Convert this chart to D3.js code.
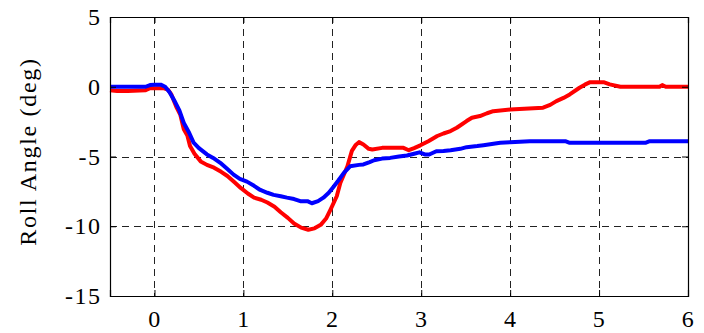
<!DOCTYPE html>
<html><head><meta charset="utf-8">
<script src="https://cdn.jsdelivr.net/npm/d3@7"></script>
<style>
html,body{margin:0;padding:0;background:#fff;}
svg{display:block;}
</style></head>
<body>
<svg id="chart" width="704" height="333"></svg>
<script>
// Data
const xTicks = [0, 1, 2, 3, 4, 5, 6];
const yTicks = [5, 0, -5, -10, -15];
const yLabel = "Roll Angle (deg)";

const blueT = [-0.5,-0.1,-0.05,0.0,0.07,0.12,0.17,0.22,0.28,0.33,0.39,0.44,0.5,0.59,0.66,0.74,0.82,0.89,0.96,1.04,1.12,1.19,1.27,1.34,1.42,1.49,1.57,1.64,1.72,1.77,1.84,1.9,1.96,2.01,2.07,2.13,2.2,2.3,2.35,2.42,2.47,2.56,2.65,2.75,2.84,2.92,2.98,3.04,3.09,3.17,3.25,3.33,3.44,3.51,3.63,3.7,3.85,3.89,4.0,4.22,4.62,4.67,5.52,5.57,6.0];
const blueV = [0,0,0.12,0.15,0.15,0.0,-0.4,-0.95,-1.7,-2.6,-3.3,-4.0,-4.4,-4.85,-5.1,-5.45,-5.9,-6.3,-6.6,-6.8,-7.1,-7.4,-7.6,-7.75,-7.85,-7.95,-8.05,-8.2,-8.2,-8.35,-8.2,-7.95,-7.6,-7.2,-6.7,-6.17,-5.7,-5.6,-5.57,-5.4,-5.27,-5.15,-5.1,-5.0,-4.93,-4.8,-4.7,-4.85,-4.86,-4.62,-4.6,-4.55,-4.45,-4.33,-4.25,-4.19,-4.05,-4.02,-3.97,-3.9,-3.9,-4.02,-4.02,-3.9,-3.9];

const redT = [-0.5,-0.42,-0.3,-0.1,-0.05,0.1,0.15,0.19,0.25,0.29,0.33,0.37,0.4,0.45,0.52,0.59,0.67,0.75,0.82,0.9,0.97,1.05,1.12,1.2,1.27,1.35,1.42,1.5,1.57,1.65,1.73,1.8,1.87,1.93,1.98,2.05,2.09,2.17,2.22,2.26,2.3,2.35,2.41,2.45,2.56,2.8,2.86,2.92,2.99,3.08,3.18,3.25,3.33,3.4,3.51,3.57,3.66,3.74,3.81,4.0,4.37,4.45,4.52,4.6,4.67,4.78,4.84,4.9,5.05,5.12,5.24,5.68,5.71,5.75,6.0];
const redV = [-0.25,-0.3,-0.3,-0.25,-0.1,-0.1,-0.2,-0.55,-1.5,-2.0,-3.05,-3.5,-4.25,-4.8,-5.35,-5.6,-5.8,-6.1,-6.4,-6.85,-7.25,-7.65,-7.95,-8.1,-8.3,-8.6,-9.0,-9.4,-9.8,-10.1,-10.25,-10.15,-9.9,-9.45,-8.8,-7.85,-6.9,-5.7,-4.6,-4.2,-3.97,-4.14,-4.45,-4.5,-4.38,-4.38,-4.55,-4.4,-4.2,-3.9,-3.53,-3.35,-3.18,-2.94,-2.46,-2.22,-2.1,-1.9,-1.75,-1.63,-1.5,-1.3,-1.03,-0.8,-0.55,-0.07,0.15,0.33,0.33,0.17,0.0,0.0,0.12,0.0,0.0];

const FONT = '"Liberation Serif"';
const margin = {left: 110, right: 16, top: 17, bottom: 37};
const W = 704, H = 333;
const svg = d3.select("#chart");
const x = d3.scaleLinear().domain([-0.5, 6]).range([margin.left, W - margin.right]);
const y = d3.scaleLinear().domain([-15, 5]).range([H - margin.bottom, margin.top]);
const x0 = x.range()[0], x1 = x.range()[1], y0 = y.range()[0], y1 = y.range()[1];

// grid
const grid = svg.append("g");
grid.selectAll(".vg").data(xTicks.filter(d => d > -0.5 && d < 6)).join("line")
  .attr("x1", d => Math.round(x(d)) + 0.5).attr("x2", d => Math.round(x(d)) + 0.5)
  .attr("y1", y1).attr("y2", y0)
  .attr("stroke", "#222").attr("stroke-width", 1).attr("stroke-dasharray", "7,5");
grid.selectAll(".hg").data(yTicks.filter(d => d > -15 && d < 5)).join("line")
  .attr("y1", d => Math.round(y(d)) + 0.5).attr("y2", d => Math.round(y(d)) + 0.5)
  .attr("x1", x0).attr("x2", x1)
  .attr("stroke", "#222").attr("stroke-width", 1).attr("stroke-dasharray", "7,5");

// lines
const line = d3.line().x(d => x(d[0])).y(d => y(d[1]));
svg.append("path").datum(redT.map((t, i) => [t, redV[i]]))
  .attr("d", line).attr("fill", "none").attr("stroke", "#ff0000")
  .attr("stroke-width", 4).attr("stroke-linejoin", "round");
svg.append("path").datum(blueT.map((t, i) => [t, blueV[i]]))
  .attr("d", line).attr("fill", "none").attr("stroke", "#0000ff")
  .attr("stroke-width", 4).attr("stroke-linejoin", "round");

// axes (MATLAB style: ticks inside, box)
const tickLen = 6;
const xb = d3.axisBottom(x).tickValues(xTicks).tickSize(-tickLen).tickPadding(14).tickFormat(d3.format("d"));
const gx = svg.append("g").attr("transform", `translate(0,${y0})`).call(xb);
const yl = d3.axisLeft(y).tickValues(yTicks).tickSize(-tickLen).tickPadding(10).tickFormat(d => d < 0 ? "-" + Math.abs(d) : d);
const gy = svg.append("g").attr("transform", `translate(${x0},0)`).call(yl);
const xt = d3.axisTop(x).tickValues(xTicks).tickSize(-tickLen).tickFormat("");
svg.append("g").attr("transform", `translate(0,${y1})`).call(xt);
const yr = d3.axisRight(y).tickValues(yTicks).tickSize(-tickLen).tickFormat("");
svg.append("g").attr("transform", `translate(${x1},0)`).call(yr);
svg.selectAll("g").attr("font-family", null);
svg.selectAll(".domain").attr("stroke", "#000").attr("stroke-width", 1.2);
svg.selectAll(".tick line").attr("stroke", "#000");
svg.selectAll(".tick text").style("font-family", FONT).style("font-size", "24px")
  .style("letter-spacing", "1.5px").attr("fill", "#000");
gx.selectAll(".tick text").attr("dy", "0.71em");
gy.selectAll(".tick text").attr("dx", "1.5px");

// y label
svg.append("text")
  .attr("transform", `translate(36,${(y0 + y1) / 2 - 5}) rotate(-90)`)
  .attr("text-anchor", "middle")
  .style("font-family", FONT)
  .style("font-size", "24px")
  .style("letter-spacing", "1.7px")
  .attr("fill", "#000")
  .text(yLabel);
</script>
</body></html>
